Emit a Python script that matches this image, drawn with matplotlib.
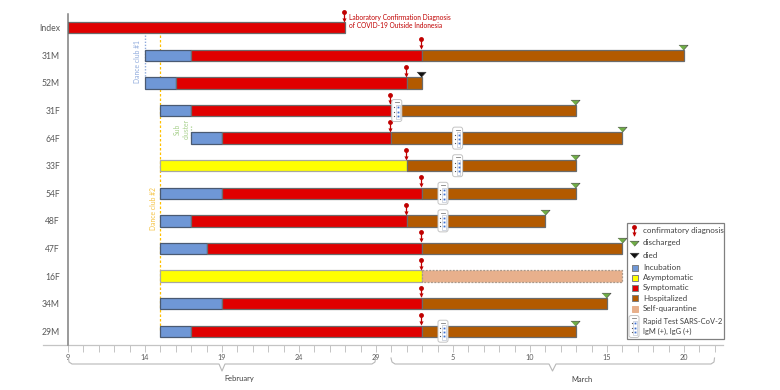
import matplotlib
matplotlib.use("Agg")
import matplotlib.pyplot as plt
from matplotlib.patches import FancyBboxPatch, Rectangle

plt.rcParams['font.family'] = ['Lato', 'DejaVu Sans']

# Days counted on a continuous scale: Feb d = d, Mar d = d + 29
patients = ['Index', '31M', '52M', '31F', '64F', '33F', '54F', '48F', '47F', '16F', '34M', '29M']
onset = [9, 14, 14, 15, 17, 15, 15, 15, 15, 15, 15, 15]
incubation_end = [None, 17, 16, 17, 19, None, 19, 17, 18, None, 19, 17]
asymptomatic_end = [None, None, None, None, None, 31, None, None, None, 32, None, None]
symptomatic_end = [27, 32, 31, 30, 30, None, 32, 31, 32, None, 32, 32]
hospital_end = [None, 49, 32, 42, 45, 42, 42, 40, 45, None, 44, 42]
quarantine_end = [None, None, None, None, None, None, None, None, None, 45, None, None]
diagnosis_day = [27, 32, 31, 30, 30, 31, 32, 31, 32, 32, 32, 32]
discharged_rows = ['31M', '31F', '64F', '33F', '54F', '48F', '47F', '34M', '29M']
died_rows = ['52M']
test_rows = ['31F', '64F', '33F', '54F', '48F', '29M']
test_days = [30.35, 34.3, 34.3, 33.35, 33.35, 33.35]

tick_days = list(range(9, 52))
tick_names = {9: '9', 14: '14', 19: '19', 24: '24', 29: '29',
              34: '5', 39: '10', 44: '15', 49: '20'}

legend_marks = ['confirmatory diagnosis', 'discharged', 'died']
legend_phases = ['Incubation', 'Asymptomatic', 'Symptomatic', 'Hospitalized', 'Self-quarantine']
legend_test = ['Rapid Test SARS-CoV-2', 'IgM (+), IgG (+)']

BLUE, YELLOW, RED, BROWN, PEACH = '#6F97D6', '#FFFF00', '#E00000', '#B35A00', '#E8B08C'
GREY = '#595959'
DPI = 100
PX_DAY, PX_ROW = 15.4, 27.6
FLAT_TRI = [(-1, 0.5), (1, 0.5), (0, -0.6)]

fig = plt.figure(figsize=(7.8, 3.9), dpi=DPI)
ax = fig.add_axes([68 / 780, 45 / 390, 655 / 780, 331 / 390])
ax.set_xlim(9, 9 + 655 / PX_DAY)
ax.set_ylim(11.5, -0.5)
for s in ['top', 'right', 'bottom']:
    ax.spines[s].set_visible(False)
ax.spines['left'].set_color('#7f7f7f')
ax.spines['left'].set_linewidth(1.1)
ax.set_xticks(tick_days, [tick_names.get(d, '') for d in tick_days], fontsize=5.2, color=GREY)
ax.tick_params(axis='x', length=5.2, width=0.7, color='#c4c4c4', pad=1.5)
ax.set_yticks(range(len(patients)), patients, fontsize=6.2, color=GREY)
ax.tick_params(axis='y', length=0, pad=5.8)
ax.plot([-25 / 655, 1], [0, 0], transform=ax.transAxes, color='#c4c4c4', lw=0.9, clip_on=False, zorder=1)

BAR_H = 0.41


def seg(row, start, end, color, edge='#6b6b6b', ls='-', z=3):
    ax.barh(row, end - start, left=start, height=BAR_H, color=color,
            edgecolor=edge, linewidth=0.9, linestyle=ls, zorder=z)


for i in range(len(patients)):
    cursor = onset[i]
    if incubation_end[i] is not None:
        seg(i, cursor, incubation_end[i], BLUE, edge='#4a5a72')
        cursor = incubation_end[i]
    if asymptomatic_end[i] is not None:
        seg(i, cursor, asymptomatic_end[i], YELLOW, edge='#a8a8a0')
        cursor = asymptomatic_end[i]
    if symptomatic_end[i] is not None:
        seg(i, cursor, symptomatic_end[i], RED)
        cursor = symptomatic_end[i]
    if hospital_end[i] is not None:
        seg(i, cursor, hospital_end[i], BROWN)
        cursor = hospital_end[i]
    if quarantine_end[i] is not None:
        seg(i, cursor, quarantine_end[i], PEACH, edge='#a8988a', ls=(0, (1.5, 1.2)))


def pin(a, x, tip, unit, z=6):
    """Diagnosis pin, y values downward; unit = data units per pixel."""
    a.plot([x, x], [tip - 9.5 * unit, tip - 1.5 * unit], color='#C00000', lw=0.9, zorder=z, clip_on=False)
    a.plot([x], [tip - 1.7 * unit], marker='v', ms=3.0, color='#C00000', mec='none', zorder=z, clip_on=False)
    a.plot([x], [tip - 9.5 * unit], 'o', ms=3.5, color='#C00000', mec='none', zorder=z, clip_on=False)


def tri(a, x, y, color):
    a.plot([x], [y], marker=FLAT_TRI, ms=6.6, color=color, mec='#3f3f3f', mew=0.4, zorder=6, clip_on=False)


for i, d in enumerate(diagnosis_day):
    pin(ax, d - 0.08, i - BAR_H / 2 - 0.03, 1 / PX_ROW)
for name in discharged_rows:
    i = patients.index(name)
    tri(ax, hospital_end[i] - 0.05, i - BAR_H / 2 - 0.11, '#70AD47')
for name in died_rows:
    i = patients.index(name)
    tri(ax, hospital_end[i] - 0.05, i - BAR_H / 2 - 0.11, '#111111')


def kit(a, cx, cy, w, h, aspect, z=7):
    """Small drawing of a test cassette; w, h in a's data units."""
    a.add_patch(FancyBboxPatch((cx - w / 2, cy - h / 2), w, h,
                               boxstyle=f'round,pad=0,rounding_size={w * 0.22}',
                               mutation_aspect=aspect, fc='white', ec='#c4c4c4', lw=0.7, zorder=z))
    a.plot([cx - w * 0.2, cx + w * 0.2], [cy - h * 0.38] * 2, color='#808080', lw=0.6, zorder=z + 1)
    a.add_patch(Rectangle((cx - w * 0.08, cy - h * 0.26), w * 0.36, h * 0.66, fc='white',
                          ec='#b0b8c8', lw=0.4, zorder=z + 1))
    for f in (-0.14, 0.05, 0.24):
        a.plot([cx + w * 0.1], [cy + f * h], 's', ms=1.3, color='#3b6fd0', mec='none', zorder=z + 2)
        a.plot([cx - w * 0.25], [cy + f * h], 's', ms=0.8, color='#555555', mec='none', zorder=z + 2)


for name, d in zip(test_rows, test_days):
    kit(ax, d, patients.index(name), 10 / PX_DAY, 22 / PX_ROW, PX_DAY / PX_ROW)

ax.text(27.23, -0.5 + 3.5 / PX_ROW + 0.01, 'Laboratory Confirmation Diagnosis',
        color='#C00000', fontsize=4.75, va='center', ha='left', zorder=6)
ax.text(27.23, -0.5 + 12 / PX_ROW, 'of COVID-19 Outside Indonesia',
        color='#C00000', fontsize=4.75, va='center', ha='left', zorder=6)

# Cluster guides
ax.plot([14, 14], [0.26, 1.78], color='#8FAADC', lw=1.0, ls=(0, (1, 1.2)), zorder=2)
ax.text(13.5, 1.24, 'Dance club #1', rotation=90, color='#8FAADC', fontsize=4.9, ha='center', va='center')
ax.plot([15, 15], [0.26, 10.94], color='#FFC000', lw=0.9, ls=(0, (2, 1.6)), zorder=2)
ax.text(14.58, 6.55, 'Dance club #2', rotation=90, color='#F5C242', fontsize=4.9, ha='center', va='center')
ax.plot([17, 17], [3.55, 4.0], color='#A9D18E', lw=0.9, ls=(0, (1, 1.2)), zorder=2)
ax.text(16.1, 3.67, 'Sub', rotation=90, color='#A9D18E', fontsize=4.9, ha='center', va='center')
ax.text(16.66, 3.67, 'cluster', rotation=90, color='#A9D18E', fontsize=4.9, ha='center', va='center')

# Month brackets on a full-figure pixel overlay
ov = fig.add_axes([0, 0, 1, 1], facecolor='none')
ov.set_xlim(0, 780)
ov.set_ylim(390, 0)
ov.axis('off')
BR = '#b8b8b8'
ov.plot([68.5, 69, 72, 219, 222, 225, 372, 375, 375.5], [358, 362, 364, 364, 371, 364, 364, 362, 358],
        color=BR, lw=0.8, solid_joinstyle='round')
ov.plot([391, 392, 395, 549, 552.5, 556, 711, 714, 714.5], [358, 362, 364, 364, 371, 364, 364, 362, 358],
        color=BR, lw=0.8, solid_joinstyle='round')
ov.text(239, 379, 'February', fontsize=5.4, color='#404040', ha='center', va='center')
ov.text(582, 379, 'March', fontsize=5.4, color='#404040', ha='center', va='center')

# Legend box
ov.add_patch(Rectangle((627, 223), 96.5, 116, fc='white', ec='#808080', lw=0.9, zorder=10))
mark_y = [230.7, 243, 255.3]
phase_y = [267.7, 277.5, 287.7, 298, 308.7]
test_y = [321.7, 331.7]
LTXT = '#404040'
for lab, y in zip(legend_marks, mark_y):
    ov.text(642.8, y, lab, fontsize=5.8, color=LTXT, va='center', zorder=11)
for lab, y, c in zip(legend_phases, phase_y, [BLUE, YELLOW, RED, BROWN, PEACH]):
    ov.text(642.8, y, lab, fontsize=5.8, color=LTXT, va='center', zorder=11)
    ov.add_patch(Rectangle((631.5, y - 3), 6, 6, fc=c, ec='#7f7f7f' if c != PEACH else PEACH,
                           lw=0.7, zorder=11))
for lab, y in zip(legend_test, test_y):
    ov.text(643.3, y, lab, fontsize=5.4, color=LTXT, va='center', zorder=11)

pin(ov, 633.7, 236, 1.0, z=12)
tri(ov, 634, 243, '#70AD47')
ov.lines[-1].set_zorder(12)
tri(ov, 634, 255, '#111111')
ov.lines[-1].set_zorder(12)
kit(ov, 634, 326.5, 10, 22, 1.0, z=12)

fig.savefig('out.png', dpi=DPI)
